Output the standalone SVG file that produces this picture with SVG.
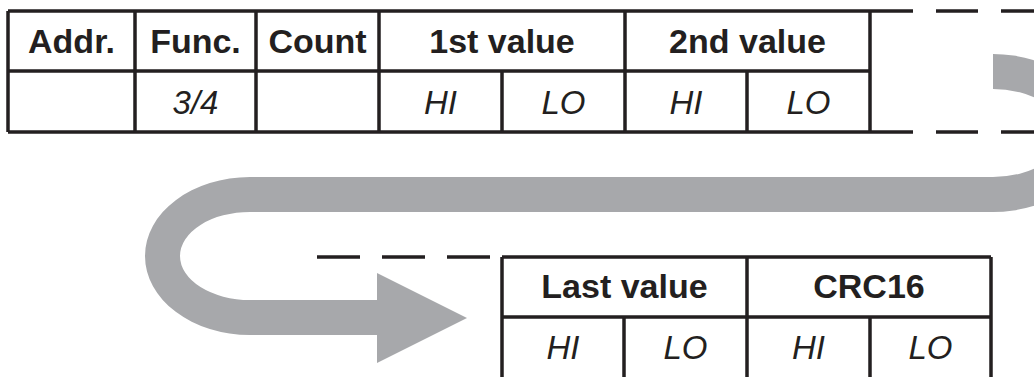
<svg xmlns="http://www.w3.org/2000/svg" width="1034" height="377" viewBox="0 0 1034 377">
<style>
.ln{stroke:#231f20;stroke-width:3.5;fill:none}
.dash{stroke:#231f20;stroke-width:3.5;fill:none}
.h{font-family:"Liberation Sans",Arial,sans-serif;font-weight:bold;font-size:34px;fill:#231f20;text-anchor:middle}
.v{font-family:"Liberation Sans",Arial,sans-serif;font-style:italic;font-size:33px;fill:#231f20;text-anchor:middle}
</style>
<rect width="1034" height="377" fill="#ffffff"/>
<g id="connectors">
<path d="M 993,54 A 105 79 0 0 1 993,212 L 250,212 A 70 44 0 0 0 250,300 L 377,300 L 377,273 L 467,318 L 377,363 L 377,335 L 250,335 A 105 79 0 0 1 250,177 L 993,177 A 70 44 0 0 0 993,89 Z" fill="#a7a8ab"/>
</g>
<g id="frame1">
<path class="ln" d="M 8,11 L 913,11 M 8,132 L 913,132 M 8,71 L 870,71 M 8,11 L 8,132 M 135,11 L 135,132 M 256,11 L 256,132 M 379,11 L 379,132 M 625,11 L 625,132 M 870,11 L 870,132 M 502,71 L 502,132 M 747,71 L 747,132"/>
<path class="dash" d="M 936,11 L 978,11 M 1001,11 L 1034,11 M 936,132 L 978,132 M 1001,132 L 1034,132"/>
<text class="h" x="71.5" y="53">Addr.</text>
<text class="h" x="195.5" y="53">Func.</text>
<text class="h" x="317.5" y="53">Count</text>
<text class="h" x="502" y="53">1st value</text>
<text class="h" x="747.5" y="53">2nd value</text>
<text class="v" x="195.5" y="114">3/4</text>
<text class="v" x="440.5" y="114">HI</text>
<text class="v" x="563.5" y="114">LO</text>
<text class="v" x="686" y="114">HI</text>
<text class="v" x="808.5" y="114">LO</text>
</g>
<g id="frame2">
<path class="dash" d="M 317,257 L 360,257 M 382,257 L 425,257 M 447,257 L 490,257"/>
<path class="ln" d="M 502,257 L 991,257 M 502,317 L 991,317 M 502,257 L 502,377 M 624,317 L 624,377 M 747,257 L 747,377 M 870,317 L 870,377 M 991,257 L 991,377"/>
<text class="h" x="624.5" y="298">Last value</text>
<text class="h" x="869" y="298">CRC16</text>
<text class="v" x="563" y="359">HI</text>
<text class="v" x="685.5" y="359">LO</text>
<text class="v" x="808.5" y="359">HI</text>
<text class="v" x="930.5" y="359">LO</text>
</g>
</svg>
